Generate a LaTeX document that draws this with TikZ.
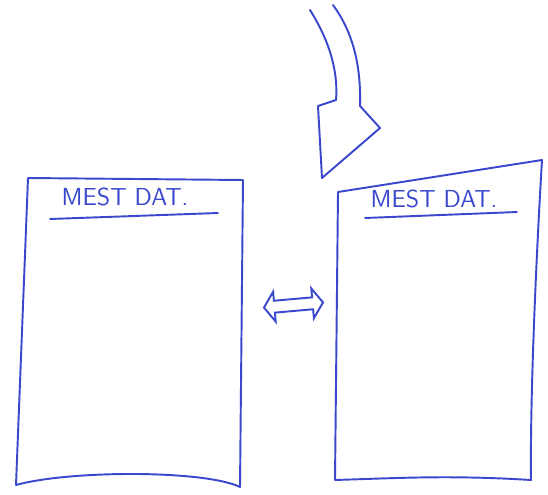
\documentclass[tikz,border=0pt]{standalone}
\usepackage{tikz}
\usepackage{xcolor}
\usetikzlibrary{shapes.arrows, arrows.meta, positioning, calc}
\definecolor{cInk}{RGB}{58,72,205}
\tikzset{
	ink/.style      ={draw=cInk, line width=1.1pt, line join=round, line cap=round},
	title/.style    ={text=cInk, font=\sffamily\fontsize{14}{16}\selectfont, inner sep=1pt},
	uline/.style    ={draw=cInk, line width=1.1pt, line cap=round},
	% hollow double arrow between the two tables
	dblarrow/.style ={double arrow, draw=cInk, line width=1.1pt, inner xsep=0.49cm, inner ysep=0.1cm, double arrow head extend=0.18cm, double arrow tip angle=110},
}
\begin{document}
\begin{tikzpicture}[x=0.02cm, y=-0.02cm]
	\useasboundingbox (0,0) rectangle (548,494);
	% left table
	\coordinate (lbnw) at (28,178);
	\coordinate (lbne) at (243,180);
	\coordinate (lbse) at (240,487);
	\coordinate (lbsw) at (16,485);
	\draw[ink] (lbsw) -- (lbnw) -- (lbne) -- (lbse) .. controls (205,470) and (70,470) .. (lbsw);
	\node[title] (ltitle) at (125,197) {MEST DAT.};
	\draw[uline] ($(ltitle)+(-75,22)$) -- ($(ltitle)+(93,16)$);
	% right table
	\coordinate (rbnw) at (338,192);
	\coordinate (rbne) at (542,160);
	\coordinate (rbse) at (531,480);
	\coordinate (rbsw) at (335,480);
	\draw[ink] (rbsw) -- (rbnw) -- (rbne) .. controls (536,260) and (530,400) .. (rbse) .. controls (450,475) and (400,478) .. (rbsw);
	\node[title] (rtitle) at (434,199) {MEST DAT.};
	\draw[uline] ($(rtitle)+(-69,19)$) -- ($(rtitle)+(83,13)$);
	% link between tables
	\node[dblarrow, rotate=5] (link) at ($(lbne)!0.5!(rbnw)+(3,119)$) {};
	% incoming hollow arrow
	\draw[ink] (310,10) .. controls (332,45) and (338,75) .. (336,100) -- (318,106) -- (322,178) -- (380,128) -- (360,106) .. controls (361,70) and (355,35) .. (333,5);
\end{tikzpicture}
\end{document}
